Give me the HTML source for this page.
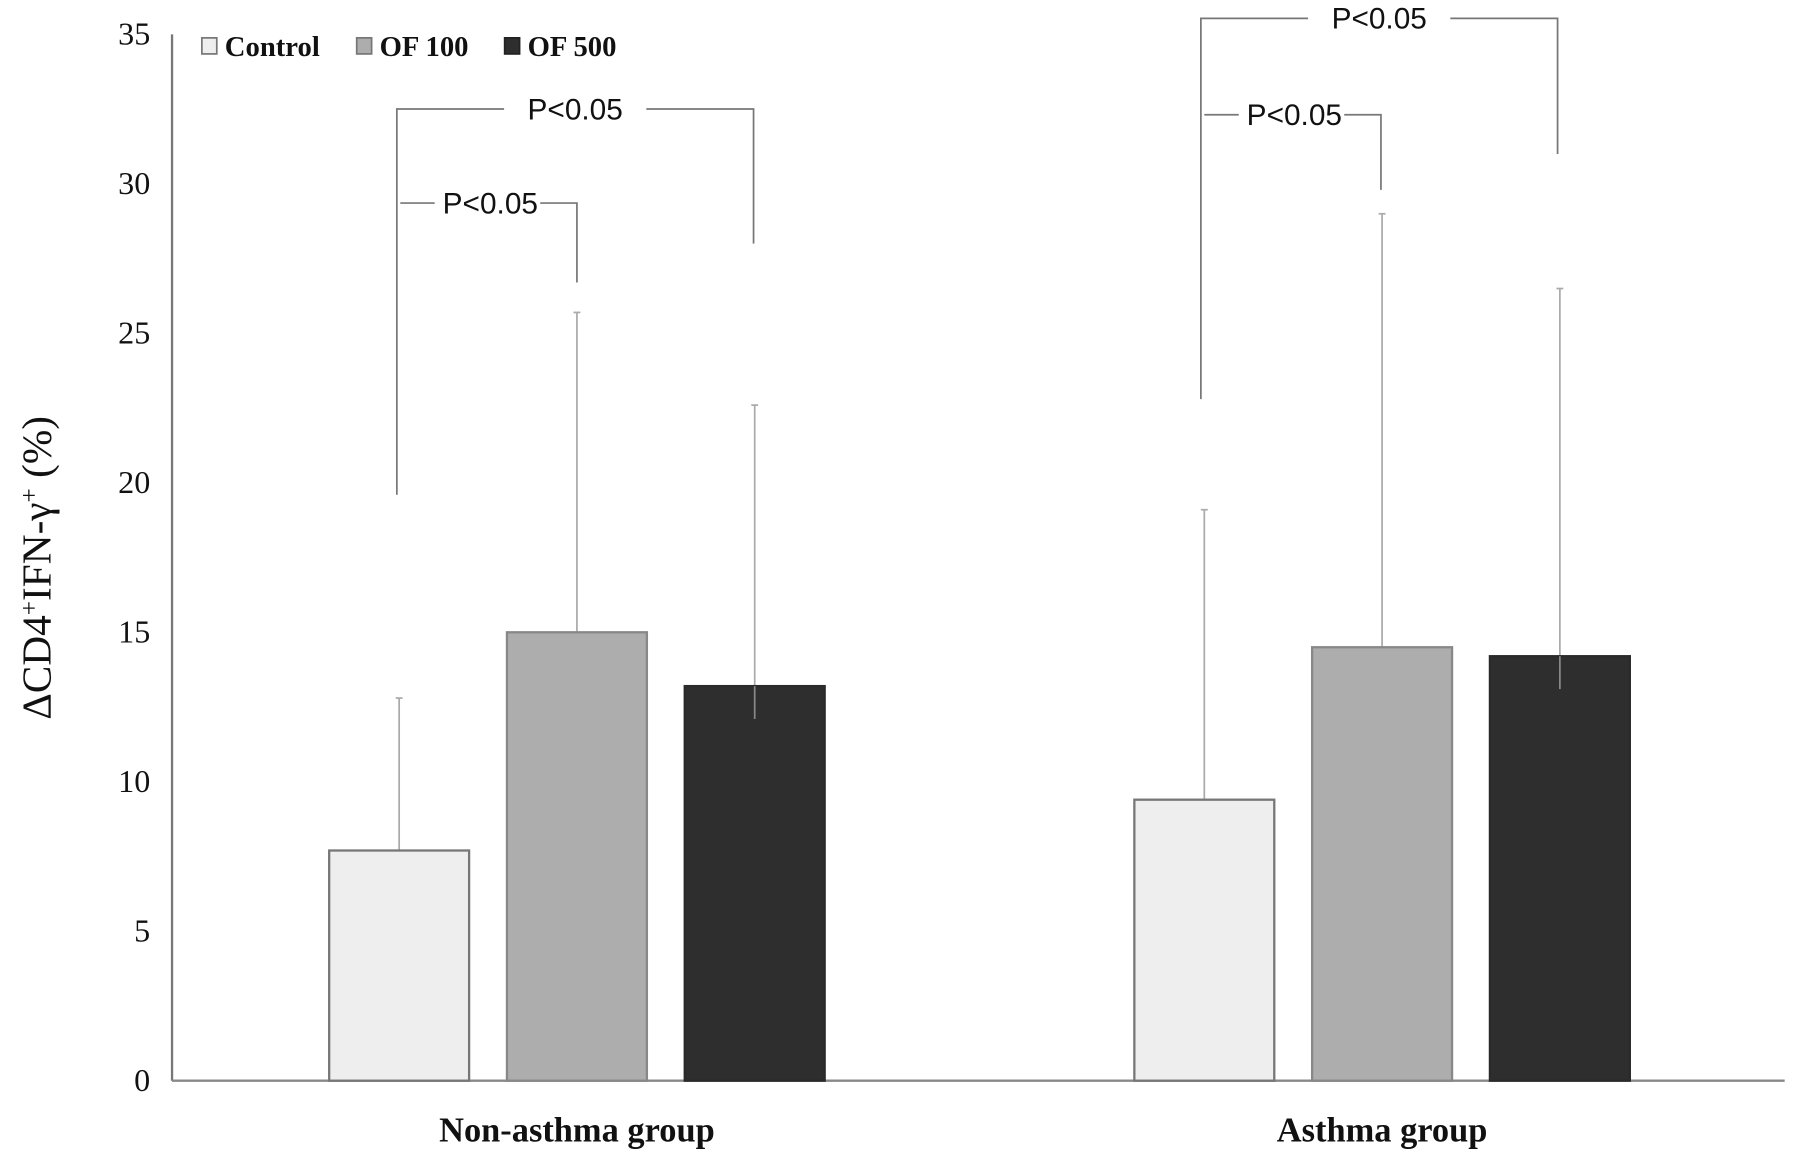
<!DOCTYPE html>
<html><head><meta charset="utf-8"><style>
html,body{margin:0;padding:0;background:#fff;}
svg{display:block;}
.tick{font-family:"Liberation Serif",serif;font-size:28px;fill:#111;}
.leg{font-family:"Liberation Serif",serif;font-size:25px;font-weight:bold;fill:#111;}
.p{font-family:"Liberation Sans",sans-serif;font-size:26px;fill:#111;}
.cat{font-family:"Liberation Serif",serif;font-size:30px;font-weight:bold;fill:#111;}
.ytitle{font-family:"Liberation Serif",serif;font-size:36px;fill:#111;}
</style></head><body>
<svg id="chart" width="1795" height="1161" viewBox="0 0 1565 1012" preserveAspectRatio="none" xmlns="http://www.w3.org/2000/svg">
<text class="ytitle" transform="translate(44,495) rotate(-90)" text-anchor="middle">ΔCD4<tspan baseline-shift="super" font-size="22">+</tspan>IFN-γ<tspan baseline-shift="super" font-size="22">+</tspan> (%)</text>
</svg>
<script>
const categories = ["Non-asthma group", "Asthma group"];
const seriesNames = ["Control", "OF 100", "OF 500"];
const controlVals = [7.7, 9.4];
const of100Vals = [15.0, 14.5];
const of500Vals = [13.2, 14.2];
const controlErr = [12.8, 19.1];
const of100Err = [25.7, 29.0];
const of500Err = [22.6, 26.5];
const of500Low = [12.1, 13.1];
const yTicks = [0, 5, 10, 15, 20, 25, 30, 35];
const pLabels = ["P<0.05", "P<0.05"];

const NS = "http://www.w3.org/2000/svg";
const svg = document.getElementById('chart');
const y0 = 942, yTop = 30, yMax = 35;
function y(v){ return y0 - v * (y0 - yTop) / yMax; }
const groupStart = [287, 989], barW = 122, barStep = 155;
function bx(g, s){ return groupStart[g] + s * barStep; }
function mk(tag, attrs){ const e = document.createElementNS(NS, tag); for (const k in attrs) e.setAttribute(k, attrs[k]); svg.appendChild(e); return e; }

let ax = mk('line', {x1:150, y1:30, x2:150, y2:942, stroke:'#777', 'stroke-width':2});


ax = mk('line', {x1:150, y1:942, x2:1556, y2:942, stroke:'#888', 'stroke-width':2});



yTicks.forEach(t => {
  const tx = mk('text', {x:131, y:y(t)+9, 'text-anchor':'end', class:'tick'});
  tx.textContent = t;
  
  
});

const fills = ['#eeeeee', '#adadad', '#2e2e2e'];
const strokes = ['#777', '#888', '#2a2a2a'];
const vals = [controlVals, of100Vals, of500Vals];
const errs = [controlErr, of100Err, of500Err];

categories.forEach((c, g) => {
  for (let s = 0; s < 3; s++) {
    const x = bx(g, s), cx = x + barW / 2;
    const top = errs[s][g];
    const e = mk('line', {x1:cx, y1:y(top), x2:cx, y2:y(vals[s][g]), stroke:'#aaa', 'stroke-width':1.5});
    
    
    const cap = mk('line', {x1:cx-3, y1:y(top), x2:cx+3, y2:y(top), stroke:'#aaa', 'stroke-width':1.5});
    
    
    const r = mk('rect', {x:x, y:y(vals[s][g]), width:barW, height:y0 - y(vals[s][g]), fill:fills[s], stroke:strokes[s], 'stroke-width':2});
    
    
    if (s === 2) {
      const lo = mk('line', {x1:cx, y1:y(vals[s][g]), x2:cx, y2:y(of500Low[g]), stroke:'#888', 'stroke-width':1.5});
      
      
    }
  }
  const t = mk('text', {x:bx(g,1)+barW/2, y:995, 'text-anchor':'middle', class:'cat'});
  t.textContent = c;
  
  
});

const brackets = [
  {lx:346, lBot:19.6, outerY:95, rx:657, rBot:28.0, innerY:177, ix:503, iBot:26.7},
  {lx:1047, lBot:22.8, outerY:16, rx:1358, rBot:31.0, innerY:100, ix:1204, iBot:29.8}
];
brackets.forEach((b, i) => {
  const outer = mk('polyline', {points:`${b.lx},${y(b.lBot)} ${b.lx},${b.outerY} ${(b.lx+b.rx)/2-62},${b.outerY}`, fill:'none', stroke:'#777', 'stroke-width':1.5});
  
  
  const outer2 = mk('polyline', {points:`${(b.lx+b.rx)/2+62},${b.outerY} ${b.rx},${b.outerY} ${b.rx},${y(b.rBot)}`, fill:'none', stroke:'#777', 'stroke-width':1.5});
  
  
  const t1 = mk('text', {x:(b.lx+b.rx)/2, y:b.outerY+9, 'text-anchor':'middle', class:'p'});
  t1.textContent = pLabels[i];
  
  
  const inner = mk('polyline', {points:`${b.lx+3},${b.innerY} ${b.lx+33},${b.innerY}`, fill:'none', stroke:'#777', 'stroke-width':1.5});
  
  
  const inner2 = mk('polyline', {points:`${b.ix-32},${b.innerY} ${b.ix},${b.innerY} ${b.ix},${y(b.iBot)}`, fill:'none', stroke:'#777', 'stroke-width':1.5});
  
  
  const t2 = mk('text', {x:(b.lx+b.ix)/2+3, y:b.innerY+9, 'text-anchor':'middle', class:'p'});
  t2.textContent = pLabels[i];
  
  
});

const legX = [176, 311, 440];
seriesNames.forEach((n, s) => {
  const sq = mk('rect', {x:legX[s], y:33, width:13, height:14, fill:fills[s], stroke:s===2?'#222':'#777', 'stroke-width':1.5});
  
  
  const t = mk('text', {x:legX[s]+20, y:49, class:'leg'});
  t.textContent = n;
  
  
});
</script>
</body></html>
